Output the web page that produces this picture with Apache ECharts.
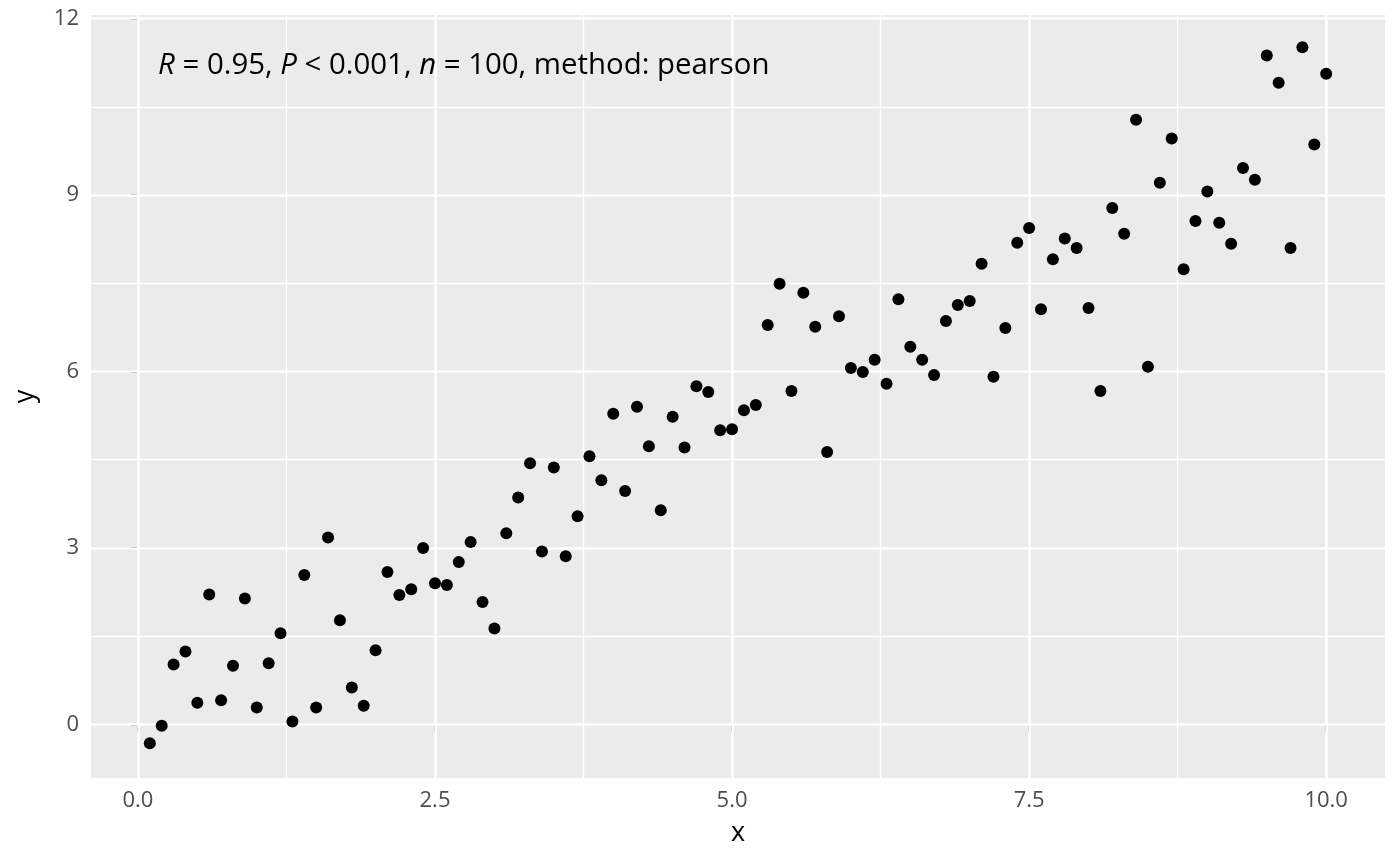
<!DOCTYPE html>
<html>
<head>
<meta charset="utf-8">
<script src="https://cdn.jsdelivr.net/npm/echarts@6/dist/echarts.min.js"></script>
<style>
html,body{margin:0;padding:0;background:#fff;}
#chart{width:1400px;height:866px;}
</style>
</head>
<body>
<div id="chart"></div>
<script>
const xValues = [0.1,0.2,0.3,0.4,0.5,0.6,0.7,0.8,0.9,1.0,
  1.1,1.2,1.3,1.4,1.5,1.6,1.7,1.8,1.9,2.0,
  2.1,2.2,2.3,2.4,2.5,2.6,2.7,2.8,2.9,3.0,
  3.1,3.2,3.3,3.4,3.5,3.6,3.7,3.8,3.9,4.0,
  4.1,4.2,4.3,4.4,4.5,4.6,4.7,4.8,4.9,5.0,
  5.1,5.2,5.3,5.4,5.5,5.6,5.7,5.8,5.9,6.0,
  6.1,6.2,6.3,6.4,6.5,6.6,6.7,6.8,6.9,7.0,
  7.1,7.2,7.3,7.4,7.5,7.6,7.7,7.8,7.9,8.0,
  8.1,8.2,8.3,8.4,8.5,8.6,8.7,8.8,8.9,9.0,
  9.1,9.2,9.3,9.4,9.5,9.6,9.7,9.8,9.9,10.0];
const yValues = [-0.32,-0.02,1.02,1.24,0.37,2.21,0.41,1.00,2.14,0.29,
  1.04,1.55,0.05,2.54,0.29,3.18,1.77,0.63,0.32,1.26,
  2.59,2.20,2.30,3.00,2.40,2.37,2.76,3.10,2.08,1.63,
  3.25,3.86,4.44,2.94,4.37,2.86,3.54,4.56,4.15,5.28,
  3.97,5.40,4.73,3.64,5.23,4.71,5.75,5.65,5.00,5.02,
  5.34,5.43,6.79,7.49,5.67,7.34,6.76,4.63,6.94,6.06,
  5.99,6.20,5.79,7.23,6.42,6.20,5.94,6.86,7.13,7.20,
  7.83,5.91,6.74,8.19,8.44,7.06,7.91,8.26,8.10,7.08,
  5.67,8.78,8.34,10.28,6.08,9.21,9.96,7.74,8.56,9.06,
  8.53,8.17,9.46,9.26,11.37,10.91,8.10,11.51,9.86,11.06];
const xTicks = [0, 2.5, 5, 7.5, 10];
const xMinor = [1.25, 3.75, 6.25, 8.75];
const yTicks = [0, 3, 6, 9, 12];
const yMinor = [1.5, 4.5, 7.5, 10.5];
const annotation = '{i|R} = 0.95, {i|P} < 0.001, {i|n} = 100, method: pearson';

const FONT = 'Open Sans';
const points = xValues.map((x, i) => [x, yValues[i]]);

const chart = echarts.init(document.getElementById('chart'), null, {renderer: 'canvas'});
const gridLines = [];
xMinor.forEach(v => gridLines.push({xAxis: v, lineStyle: {width: 1.3}}));
yMinor.forEach(v => gridLines.push({yAxis: v, lineStyle: {width: 1.3}}));
xTicks.forEach(v => gridLines.push({xAxis: v, lineStyle: {width: 2.6}}));
yTicks.forEach(v => gridLines.push({yAxis: v, lineStyle: {width: 2.6}}));

chart.setOption({
  animation: false,
  backgroundColor: '#ffffff',
  textStyle: {fontFamily: FONT},
  title: {
    text: annotation,
    left: 153, top: 46,
    textStyle: {fontFamily: FONT, fontSize: 29.4, fontWeight: 'normal', color: '#000',
      rich: {i: {fontFamily: FONT, fontSize: 29.4, fontStyle: 'italic', color: '#000'}}}
  },
  grid: {left: 91, right: 15, top: 15, bottom: 88, show: true, backgroundColor: '#EBEBEB', borderWidth: 0},
  xAxis: {
    type: 'value', min: -0.395, max: 10.495,
    axisLine: {show: false},
    splitLine: {show: false},
    axisTick: {show: true, customValues: xTicks, length: 7, lineStyle: {color: '#333333', width: 2}},
    axisLabel: {customValues: xTicks, color: '#4D4D4D', fontSize: 22, fontFamily: FONT, margin: 12,
      formatter: v => v.toFixed(1)},
    name: 'x', nameLocation: 'middle', nameGap: 42,
    nameTextStyle: {fontSize: 27, color: '#000', fontFamily: FONT}
  },
  yAxis: {
    type: 'value', min: -0.91, max: 12.06,
    axisLine: {show: false},
    splitLine: {show: false},
    axisTick: {show: true, customValues: yTicks, length: 7, lineStyle: {color: '#333333', width: 2}},
    axisLabel: {customValues: yTicks, color: '#4D4D4D', fontSize: 22, fontFamily: FONT, margin: 12,
      formatter: v => String(v)},
    name: 'y', nameLocation: 'middle', nameGap: 52, nameRotate: 90,
    nameTextStyle: {fontSize: 27, color: '#000', fontFamily: FONT}
  },
  series: [
    {
      type: 'scatter', data: [], z: 1, silent: true,
      markLine: {silent: true, symbol: 'none', label: {show: false}, animation: false,
        lineStyle: {color: '#ffffff', type: 'solid'}, data: gridLines}
    },
    {
      type: 'scatter', data: points, z: 5,
      symbol: 'circle', symbolSize: 12,
      itemStyle: {color: '#000000', opacity: 1}
    }
  ]
});
</script>
</body>
</html>
